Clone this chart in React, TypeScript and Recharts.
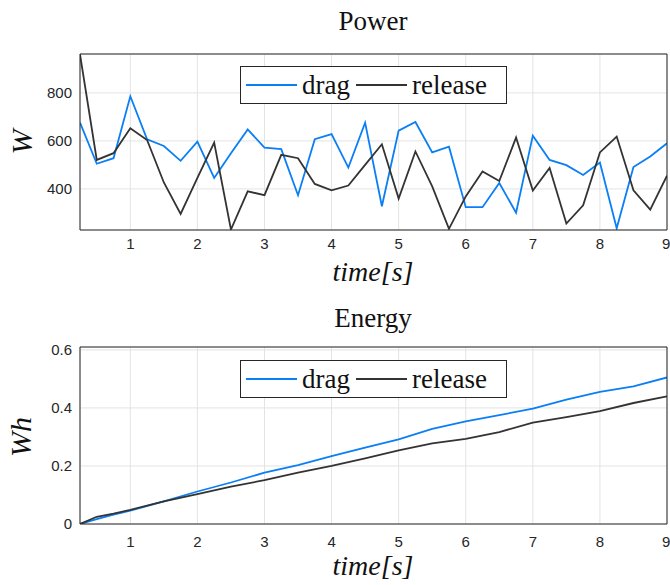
import React from "react";
import { LineChart, Line, XAxis, YAxis, CartesianGrid } from "recharts";

// power samples, every 0.25 s
const powerTime = [
  0.25, 0.5, 0.75, 1, 1.25, 1.5, 1.75, 2, 2.25, 2.5, 2.75, 3, 3.25, 3.5, 3.75, 4, 4.25, 4.5,
  4.75, 5, 5.25, 5.5, 5.75, 6, 6.25, 6.5, 6.75, 7, 7.25, 7.5, 7.75, 8, 8.25, 8.5, 8.75, 9,
];
const dragPower = [
  676, 505, 528, 786, 607, 579, 517, 597, 446, 549, 648, 572, 566, 374, 607, 628, 489, 676,
  328, 643, 679, 552, 576, 324, 324, 425, 301, 622, 521, 499, 458, 510, 236, 491, 535, 590,
];
const releasePower = [
  960, 521, 549, 653, 604, 427, 296, 446, 593, 231, 390, 374, 542, 528, 421, 394, 414, 500,
  586, 360, 556, 411, 234, 369, 473, 433, 614, 393, 487, 256, 332, 552, 618, 394, 314, 455,
];

// energy samples
const energyTime = [0.25, 0.5, 0.75, 1, 1.5, 2, 2.5, 3, 3.5, 4, 4.5, 5, 5.5, 6, 6.5, 7, 7.5, 8, 8.5, 9];
const dragEnergy = [
  0, 0.017, 0.032, 0.046, 0.078, 0.112, 0.143, 0.177, 0.203, 0.234, 0.263, 0.292, 0.328, 0.354,
  0.375, 0.398, 0.429, 0.455, 0.474, 0.505,
];
const releaseEnergy = [
  0, 0.025, 0.036, 0.049, 0.078, 0.103, 0.129, 0.151, 0.177, 0.2, 0.226, 0.254, 0.278, 0.293,
  0.317, 0.349, 0.368, 0.389, 0.417, 0.44,
];

const xTicks = [1, 2, 3, 4, 5, 6, 7, 8, 9];
const powerTicks = [400, 600, 800];
const energyTicks = [0, 0.2, 0.4, 0.6];

const powerData = powerTime.map((t, i) => ({ t, drag: dragPower[i], release: releasePower[i] }));
const energyData = energyTime.map((t, i) => ({ t, drag: dragEnergy[i], release: releaseEnergy[i] }));

const BLUE = "#0a7ff5";
const DARK = "#333333";
const AX = "#262626";
const serif = '"Liberation Serif", "DejaVu Serif", serif';
const sans = '"Liberation Sans", Arial, sans-serif';

function Legend({ top }: { top: number }) {
  const item = (color: string, label: string) => (
    <div style={{ display: "flex", alignItems: "center", marginRight: 6 }}>
      <div style={{ width: 51, height: 0, borderTop: `2px solid ${color}`, marginRight: 5 }} />
      <span style={{ fontFamily: serif, fontSize: 27, color: "#111", lineHeight: "30px" }}>{label}</span>
    </div>
  );
  return (
    <div
      style={{
        position: "absolute",
        left: 240,
        top,
        width: 267,
        height: 38,
        border: `1px solid ${AX}`,
        background: "#fff",
        display: "flex",
        alignItems: "center",
        paddingLeft: 5,
        boxSizing: "border-box",
      }}
    >
      {item(BLUE, "drag")}
      {item(DARK, "release")}
    </div>
  );
}

function Panel({
  data,
  domain,
  yTicks,
  top,
  height,
  marginTop,
  xHeight,
  xMargin,
}: {
  data: any[];
  domain: [number, number];
  yTicks: number[];
  top: number;
  height: number;
  marginTop: number;
  xHeight: number;
  xMargin: number;
}) {
  return (
    <div style={{ position: "absolute", left: 0, top }}>
      <LineChart width={670} height={height} data={data} margin={{ top: marginTop, right: 3, bottom: 0, left: 0 }}>
        <CartesianGrid stroke="#e3e3e3" strokeWidth={1} />
        <XAxis
          dataKey="t"
          type="number"
          domain={[0.25, 9]}
          ticks={xTicks}
          allowDataOverflow
          height={xHeight}
          axisLine={false}
          tickLine={false}
          tickSize={0}
          tickMargin={xMargin}
          tick={{ fill: AX, fontSize: 15, fontFamily: sans }}
        />
        <YAxis
          type="number"
          domain={domain}
          ticks={yTicks}
          allowDataOverflow
          width={80}
          axisLine={false}
          tickLine={false}
          tickSize={0}
          tickMargin={8}
          tick={{ fill: AX, fontSize: 15, fontFamily: sans }}
        />
        <XAxis xAxisId="bm" dataKey="t" type="number" domain={[0.25, 9]} ticks={xTicks} mirror tick={false} tickSize={5} height={1} stroke={AX} allowDataOverflow />
        <XAxis xAxisId="tm" orientation="top" dataKey="t" type="number" domain={[0.25, 9]} ticks={xTicks} mirror tick={false} tickSize={5} height={1} stroke={AX} allowDataOverflow />
        <YAxis yAxisId="lm" type="number" domain={domain} ticks={yTicks} mirror tick={false} tickSize={5} width={1} stroke={AX} allowDataOverflow />
        <YAxis yAxisId="rm" orientation="right" type="number" domain={domain} ticks={yTicks} mirror tick={false} tickSize={5} width={1} stroke={AX} allowDataOverflow />
        <Line type="linear" dataKey="drag" stroke={BLUE} strokeWidth={1.8} dot={false} isAnimationActive={false} />
        <Line type="linear" dataKey="release" stroke={DARK} strokeWidth={1.8} dot={false} isAnimationActive={false} />
      </LineChart>
    </div>
  );
}

const textStyle: React.CSSProperties = {
  position: "absolute",
  fontFamily: serif,
  color: "#111",
  whiteSpace: "nowrap",
  transform: "translate(-50%, -50%)",
  lineHeight: 1,
};

export default function App() {
  return (
    <div style={{ position: "absolute", left: 0, top: 0, width: 670, height: 585, background: "#fff", overflow: "hidden" }}>
      <Panel data={powerData} domain={[229, 962]} yTicks={powerTicks} top={0} height={290} marginTop={54} xHeight={60} xMargin={8} />
      <Panel data={energyData} domain={[0, 0.61]} yTicks={energyTicks} top={290} height={295} marginTop={57} xHeight={61} xMargin={12} />

      <div style={{ ...textStyle, left: 373, top: 21, fontSize: 27 }}>Power</div>
      <div style={{ ...textStyle, left: 373, top: 318, fontSize: 27 }}>Energy</div>
      <div style={{ ...textStyle, left: 373, top: 272, fontSize: 28, fontStyle: "italic" }}>time[s]</div>
      <div style={{ ...textStyle, left: 373, top: 566, fontSize: 28, fontStyle: "italic" }}>time[s]</div>
      <div style={{ ...textStyle, left: 22, top: 142, fontSize: 30, fontStyle: "italic", transform: "translate(-50%, -50%) rotate(-90deg)" }}>W</div>
      <div style={{ ...textStyle, left: 21, top: 437, fontSize: 30, fontStyle: "italic", transform: "translate(-50%, -50%) rotate(-90deg)" }}>Wh</div>

      <Legend top={66} />
      <Legend top={360} />
    </div>
  );
}
